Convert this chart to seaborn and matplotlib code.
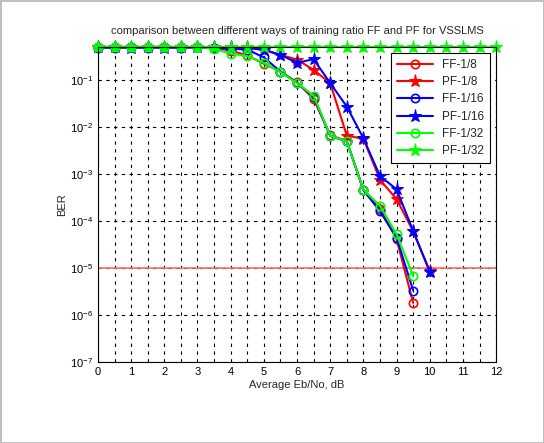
import numpy as np
import pandas as pd
import seaborn as sns
import matplotlib
matplotlib.use('Agg')
from matplotlib import pyplot as plt
from matplotlib.ticker import LogLocator, MultipleLocator, NullFormatter

# Eb/No points (dB)
snr_95 = [0, 0.5, 1, 1.5, 2, 2.5, 3, 3.5, 4, 4.5, 5, 5.5, 6, 6.5, 7, 7.5, 8, 8.5, 9, 9.5]
snr_10 = snr_95 + [10]
snr_12 = snr_10 + [10.5, 11, 11.5, 12]

# BER values
ff_8 = [0.5, 0.5, 0.5, 0.5, 0.5, 0.5, 0.5, 0.48, 0.42, 0.33, 0.22, 0.15, 0.088, 0.039,
        0.0066, 0.0050, 4.6e-4, 1.8e-4, 4.1e-5, 1.8e-6]
pf_8 = [0.5, 0.5, 0.5, 0.5, 0.5, 0.5, 0.5, 0.5, 0.5, 0.49, 0.44, 0.34, 0.27, 0.163,
        0.085, 0.0065, 0.0056, 7.5e-4, 2.9e-4, 6.0e-5, 8.5e-6]
ff_16 = [0.48, 0.48, 0.49, 0.48, 0.49, 0.48, 0.49, 0.48, 0.46, 0.44, 0.30, 0.15, 0.086, 0.044,
         0.0064, 0.0049, 4.5e-4, 1.6e-4, 4.4e-5, 3.3e-6]
pf_16 = [0.5, 0.5, 0.48, 0.5, 0.48, 0.5, 0.49, 0.5, 0.49, 0.48, 0.43, 0.34, 0.23, 0.275,
         0.085, 0.027, 0.0057, 9.0e-4, 4.7e-4, 6.1e-5, 8.3e-6]
ff_32 = [0.5, 0.5, 0.5, 0.5, 0.5, 0.5, 0.5, 0.46, 0.36, 0.32, 0.23, 0.146, 0.085, 0.046,
         0.0065, 0.0049, 4.6e-4, 2.1e-4, 5.2e-5, 6.8e-6]
pf_32 = [0.5] * 25

ber_target = 1e-5

series = [
    ('FF-1/8', snr_95, ff_8, 'red', 'o'),
    ('PF-1/8', snr_10, pf_8, 'red', '*'),
    ('FF-1/16', snr_95, ff_16, 'blue', 'o'),
    ('PF-1/16', snr_10, pf_16, 'blue', '*'),
    ('FF-1/32', snr_95, ff_32, '#00ff00', 'o'),
    ('PF-1/32', snr_12, pf_32, '#00ff00', '*'),
]

sns.set_style('white')
plt.rcParams['font.family'] = ['Liberation Sans', 'DejaVu Sans']

fig = plt.figure(figsize=(5.44, 4.43), dpi=100)
ax = fig.add_axes([0.18, 0.183, 0.732, 0.711])

for name, xs, ys, col, mk in series:
    df = pd.DataFrame({'snr': xs, 'ber': ys})
    if mk == 'o':
        sns.lineplot(data=df, x='snr', y='ber', ax=ax, color=col, marker='o', markersize=6,
                     markerfacecolor='none', markeredgecolor=col, markeredgewidth=1.2,
                     linewidth=1.5, label=name, clip_on=False)
    else:
        sns.lineplot(data=df, x='snr', y='ber', ax=ax, color=col, marker='*', markersize=9.5,
                     markeredgecolor=col, linewidth=1.5, label=name, clip_on=False)

ax.axhline(ber_target, color='#ff6a6a', linewidth=1.2, zorder=1)

ax.set_yscale('log')
ax.set_xlim(0, 12)
ax.set_ylim(1e-7, 0.5)
ax.xaxis.set_major_locator(MultipleLocator(1))
ax.xaxis.set_minor_locator(MultipleLocator(0.5))
ax.yaxis.set_major_locator(LogLocator(base=10, numticks=10))
ax.yaxis.set_minor_locator(LogLocator(base=10, subs=np.arange(2, 10), numticks=20))
ax.yaxis.set_minor_formatter(NullFormatter())

ax.grid(True, which='major', color='black', linestyle=(0, (3, 4)), linewidth=0.8)
ax.grid(True, which='minor', axis='x', color='black', linestyle=(0, (3, 4)), linewidth=0.8)
ax.tick_params(which='both', direction='in', labelsize=8, colors='black')
ax.tick_params(which='major', length=4)
ax.tick_params(which='minor', length=2)
ax.tick_params(axis='x', which='minor', length=0)
for s in ax.spines.values():
    s.set_color('black')
    s.set_linewidth(0.8)

ax.set_title('comparison between different ways of training ratio FF and PF for VSSLMS',
             fontsize=8, pad=9)
ax.set_xlabel('Average Eb/No, dB', fontsize=8, labelpad=2)
ax.set_ylabel('BER', fontsize=8, labelpad=2)

leg = ax.legend(loc='upper right', fontsize=8.5, frameon=True, fancybox=False,
                edgecolor='black', framealpha=1, borderaxespad=0.5, handlelength=3,
                labelspacing=0.45, borderpad=0.5)
leg.get_frame().set_linewidth(0.8)

fig.patch.set_edgecolor('#c0c0c0')
fig.patch.set_linewidth(1)

fig.savefig('out.png', dpi=100)
